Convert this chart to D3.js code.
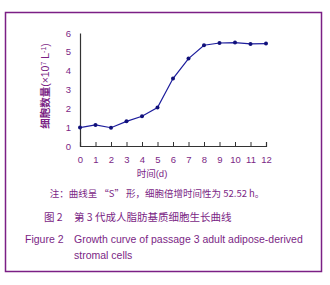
<!DOCTYPE html>
<html>
<head>
<meta charset="utf-8">
<script src="https://cdn.jsdelivr.net/npm/d3@7"></script>
<style>
  html, body { margin: 0; padding: 0; background: #fff; overflow: hidden; }
  svg { display: block; }
  text { font-family: "Liberation Sans", Arial, "Noto Sans CJK SC", sans-serif; }
  text.cjk { font-family: "Noto Sans CJK SC", sans-serif; }
</style>
</head>
<body>
<svg width="330" height="285"></svg>
<script>
  var days = [0, 1, 2, 3, 4, 5, 6, 7, 8, 9, 10, 11, 12];
  var cellCounts = [0.98, 1.12, 0.97, 1.31, 1.58, 2.04, 3.58, 4.64, 5.35, 5.47, 5.49, 5.42, 5.44];
  var yTicks = [0, 1, 2, 3, 4, 5, 6];

  var purple = "#7b1f85";
  var svg = d3.select("svg");

  // frame
  svg.append("rect")
    .attr("x", 5.5).attr("y", 12.5)
    .attr("width", 316).attr("height", 259)
    .attr("fill", "none")
    .attr("stroke", purple)
    .attr("stroke-width", 1.5);

  var margin = { top: 33, left: 80 };
  var innerWidth = 186;
  var innerHeight = 113;

  var xScale = d3.scaleLinear().domain([0, 12]).range([0, innerWidth]);
  var yScale = d3.scaleLinear().domain([0, 6]).range([innerHeight, 0]);

  var g = svg.append("g")
    .attr("transform", "translate(" + margin.left + "," + margin.top + ")");

  // x axis, ticks pointing up
  var xAxis = d3.axisBottom(xScale).tickValues(days).tickSize(-4).tickPadding(10).tickFormat(d3.format("d"));
  var xg = g.append("g").attr("transform", "translate(0," + innerHeight + ")").call(xAxis);
  xg.select(".domain").attr("stroke", "#333").attr("stroke-width", 1.2);
  xg.selectAll(".tick line").attr("stroke", "#333");
  xg.selectAll("text").attr("fill", purple).attr("font-size", 9.5);

  var yAxis = d3.axisLeft(yScale).tickValues(yTicks).tickSize(0).tickPadding(9).tickFormat(d3.format("d"));
  var yg = g.append("g").call(yAxis);
  yg.select(".domain").attr("stroke", "#333").attr("stroke-width", 1.2);
  yg.selectAll("text").attr("fill", purple).attr("font-size", 9.5);

  var line = d3.line()
    .x(function (d, i) { return xScale(days[i]); })
    .y(function (d) { return yScale(d); });

  g.append("path")
    .datum(cellCounts)
    .attr("d", line)
    .attr("fill", "none")
    .attr("stroke", "#1c1c9c")
    .attr("stroke-width", 1.2);

  g.selectAll("circle")
    .data(cellCounts)
    .enter()
    .append("circle")
    .attr("cx", function (d, i) { return xScale(days[i]); })
    .attr("cy", function (d) { return yScale(d); })
    .attr("r", 2)
    .attr("fill", "#10107a");

  // y axis title
  var yt = svg.append("text")
    .attr("transform", "translate(49,86) rotate(-90)")
    .attr("text-anchor", "middle")
    .attr("fill", purple)
    .attr("font-size", 10.5);
  yt.append("tspan").attr("font-weight", "bold").text("细胞数量");
  yt.append("tspan").text("(×10");
  yt.append("tspan").attr("baseline-shift", "super").attr("font-size", 7).text("7");
  yt.append("tspan").text(" L");
  yt.append("tspan").attr("baseline-shift", "super").attr("font-size", 7).text("-1");
  yt.append("tspan").text(")");

  svg.append("text")
    .attr("x", 152).attr("y", 177)
    .attr("text-anchor", "middle")
    .attr("fill", purple).attr("font-size", 9.5)
    .text("时间(d)");

  svg.append("text")
    .attr("class", "cjk")
    .attr("x", 157).attr("y", 197)
    .attr("text-anchor", "middle")
    .attr("fill", purple).attr("font-size", 9.5)
    .text("注：曲线呈 “S” 形，细胞倍增时间性为 52.52 h。");

  svg.append("text")
    .attr("class", "cjk")
    .attr("x", 44).attr("y", 221)
    .attr("fill", purple).attr("font-size", 10.5)
    .text("图 2");
  svg.append("text")
    .attr("class", "cjk")
    .attr("x", 74).attr("y", 221)
    .attr("fill", purple).attr("font-size", 10.5)
    .text("第 3 代成人脂肪基质细胞生长曲线");

  svg.append("text")
    .attr("x", 25).attr("y", 243)
    .attr("fill", purple).attr("font-size", 10.5)
    .text("Figure 2");
  svg.append("text")
    .attr("x", 74).attr("y", 243)
    .attr("fill", purple).attr("font-size", 10.5)
    .text("Growth curve of passage 3 adult adipose-derived");
  svg.append("text")
    .attr("x", 74).attr("y", 259)
    .attr("fill", purple).attr("font-size", 10.5)
    .text("stromal cells");
</script>
</body>
</html>
